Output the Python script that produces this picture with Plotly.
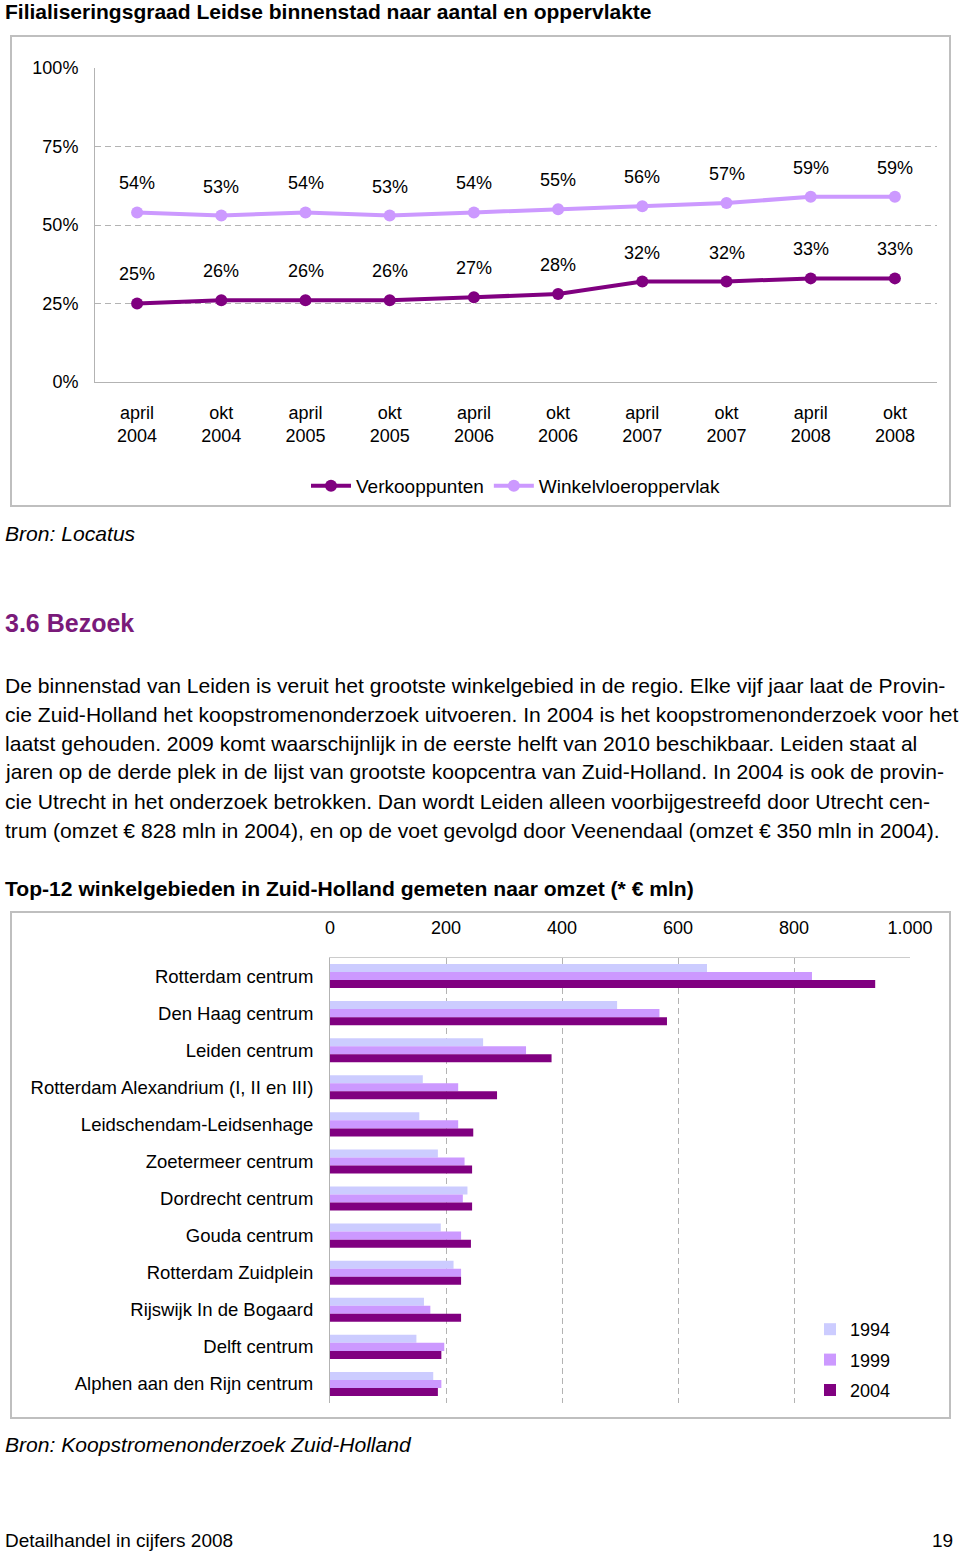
import plotly.graph_objects as go

W, H = 960, 1551
FONT = "Liberation Sans"

# ---------- data: chart 1 ----------
periods = ["april<br>2004", "okt<br>2004", "april<br>2005", "okt<br>2005", "april<br>2006",
           "okt<br>2006", "april<br>2007", "okt<br>2007", "april<br>2008", "okt<br>2008"]
verkooppunten = [0.25, 0.26, 0.26, 0.26, 0.27, 0.28, 0.32, 0.32, 0.33, 0.33]
winkelvloer = [0.54, 0.53, 0.54, 0.53, 0.54, 0.55, 0.56, 0.57, 0.59, 0.59]
pct_ticks = [0, 0.25, 0.5, 0.75, 1.0]
pct_labels = ["0%", "25%", "50%", "75%", "100%"]

# ---------- data: chart 2 ----------
areas = ["Rotterdam centrum", "Den Haag centrum", "Leiden centrum",
         "Rotterdam Alexandrium (I, II en III)", "Leidschendam-Leidsenhage",
         "Zoetermeer centrum", "Dordrecht centrum", "Gouda centrum",
         "Rotterdam Zuidplein", "Rijswijk In de Bogaard", "Delft centrum",
         "Alphen aan den Rijn centrum"]
omzet_1994 = [650, 495, 264, 160, 154, 186, 237, 191, 213, 162, 149, 178]
omzet_1999 = [831, 568, 338, 221, 221, 232, 229, 226, 226, 173, 197, 192]
omzet_2004 = [940, 581, 382, 288, 247, 245, 245, 243, 226, 226, 192, 186]
omzet_ticks = [0, 200, 400, 600, 800, 1000]
omzet_labels = ["0", "200", "400", "600", "800", "1.000"]

DARK = "#800080"
LIGHT = "#CC99FF"
PALE = "#CCCCFF"
GRID = "#B3B3B3"


def px(x):
    return x / W


def py(y):
    return 1 - y / H


fig = go.Figure()

# chart 1 lines
fig.add_trace(go.Scatter(x=list(range(len(periods))), y=verkooppunten, mode="lines+markers",
                         name="Verkooppunten", line=dict(color=DARK, width=4),
                         marker=dict(size=12, color=DARK), xaxis="x", yaxis="y", legend="legend"))
fig.add_trace(go.Scatter(x=list(range(len(periods))), y=winkelvloer, mode="lines+markers",
                         name="Winkelvloeroppervlak", line=dict(color=LIGHT, width=4),
                         marker=dict(size=12, color=LIGHT), xaxis="x", yaxis="y", legend="legend"))

annotations = []
for series in (verkooppunten, winkelvloer):
    for i, v in enumerate(series):
        annotations.append(dict(x=i, y=v, xref="x", yref="y", text=f"{round(v*100)}%",
                                showarrow=False, yshift=29,
                                font=dict(family=FONT, size=18, color="#000")))

# chart 2 bars
for name, vals, col in (("1994", omzet_1994, PALE), ("1999", omzet_1999, LIGHT), ("2004", omzet_2004, DARK)):
    fig.add_trace(go.Bar(y=areas, x=vals, orientation="h", name=name, marker=dict(color=col, line=dict(width=0)),
                         xaxis="x2", yaxis="y2", legend="legend2", legendgroup=name))


# text annotations on the page
def text(x, y, s, size, bold=False, italic=False, color="#000", xanchor="left"):
    if bold:
        s = f"<b>{s}</b>"
    if italic:
        s = f"<i>{s}</i>"
    annotations.append(dict(x=px(x), y=py(y), xref="paper", yref="paper", text=s, showarrow=False,
                            xanchor=xanchor, yanchor="middle",
                            font=dict(family=FONT, size=size, color=color)))


text(3, 12, "Filialiseringsgraad Leidse binnenstad naar aantal en oppervlakte", 21, bold=True)
text(3, 533, "Bron: Locatus", 21.1, italic=True)
text(3, 623, "3.6 Bezoek", 25, bold=True, color="#7A1A7A")
para = [
    "De binnenstad van Leiden is veruit het grootste winkelgebied in de regio. Elke vijf jaar laat de Provin-",
    "cie Zuid-Holland het koopstromenonderzoek uitvoeren. In 2004 is het koopstromenonderzoek voor het",
    "laatst gehouden. 2009 komt waarschijnlijk in de eerste helft van 2010 beschikbaar. Leiden staat al",
    "jaren op de derde plek in de lijst van grootste koopcentra van Zuid-Holland. In 2004 is ook de provin-",
    "cie Utrecht in het onderzoek betrokken. Dan wordt Leiden alleen voorbijgestreefd door Utrecht cen-",
    "trum (omzet € 828 mln in 2004), en op de voet gevolgd door Veenendaal (omzet € 350 mln in 2004).",
]
for k, line in enumerate(para):
    text(3, 685 + 29 * k, line, 21.1)
text(3, 888, "Top-12 winkelgebieden in Zuid-Holland gemeten naar omzet (* € mln)", 21.1, bold=True)
text(3, 1444, "Bron: Koopstromenonderzoek Zuid-Holland", 21.1, italic=True)
text(3, 1540, "Detailhandel in cijfers 2008", 19)
text(955, 1540, "19", 19, xanchor="right")

shapes = [
    dict(type="rect", xref="paper", yref="paper", x0=px(11), x1=px(950), y0=py(36), y1=py(506),
         line=dict(color="#BFBFBF", width=2)),
    dict(type="rect", xref="paper", yref="paper", x0=px(11), x1=px(950), y0=py(912), y1=py(1418),
         line=dict(color="#BFBFBF", width=2)),
]

tick_font = dict(family=FONT, size=18, color="#000")

fig.update_layout(
    width=W, height=H, margin=dict(l=0, r=0, t=0, b=0, pad=0, autoexpand=False),
    paper_bgcolor="white", plot_bgcolor="white",
    font=dict(family=FONT, color="#000"),
    xaxis=dict(domain=[px(95), px(937)], range=[-0.5, len(periods) - 0.5],
               tickvals=list(range(len(periods))), ticktext=periods, tickfont=tick_font,
               showgrid=False, zeroline=False, showline=True, linecolor=GRID, linewidth=1,
               ticks="", ticklabelstandoff=14, fixedrange=True, automargin=False),
    yaxis=dict(domain=[py(382), py(68)], range=[0, 1.0], tickvals=pct_ticks, ticktext=pct_labels,
               tickfont=tick_font, showgrid=True, gridcolor=GRID, griddash="6px,4px", gridwidth=1,
               zeroline=False, showline=True, linecolor=GRID, linewidth=1, ticks="",
               ticklabelstandoff=12, fixedrange=True, automargin=False),
    xaxis2=dict(domain=[px(330), px(910)], range=[0, 1000], anchor="y2", side="top",
                tickvals=omzet_ticks, ticktext=omzet_labels, tickfont=tick_font,
                showgrid=True, gridcolor=GRID, griddash="6px,4px", gridwidth=1, zeroline=False,
                showline=True, linecolor="#CCCCCC", linewidth=1, ticks="", ticklabelstandoff=15,
                fixedrange=True, automargin=False),
    yaxis2=dict(domain=[py(1402.5), py(957.5)], anchor="x2", autorange="reversed",
                tickfont=dict(family=FONT, size=18.5, color="#000"), showgrid=False, zeroline=False,
                showline=True, linecolor=GRID, linewidth=1, ticks="", ticklabelstandoff=12,
                fixedrange=True, automargin=False),
    barmode="group", bargap=0.35, bargroupgap=0,
    legend=dict(orientation="h", x=px(306), y=py(486), xanchor="left", yanchor="middle",
                font=dict(family=FONT, size=19), bgcolor="rgba(0,0,0,0)", itemwidth=40),
    legend2=dict(orientation="v", x=px(810), y=py(1311), xanchor="left", yanchor="top",
                 font=dict(family=FONT, size=18), bgcolor="rgba(0,0,0,0)",
                 traceorder="grouped", tracegroupgap=4),
    annotations=annotations, shapes=shapes, showlegend=True,
)

fig.write_html("out.html", config={"displayModeBar": False},
               post_script="document.documentElement.style.margin='0';document.body.style.margin='0';"
                           "document.documentElement.style.overflow='hidden';document.body.style.overflow='hidden';")
